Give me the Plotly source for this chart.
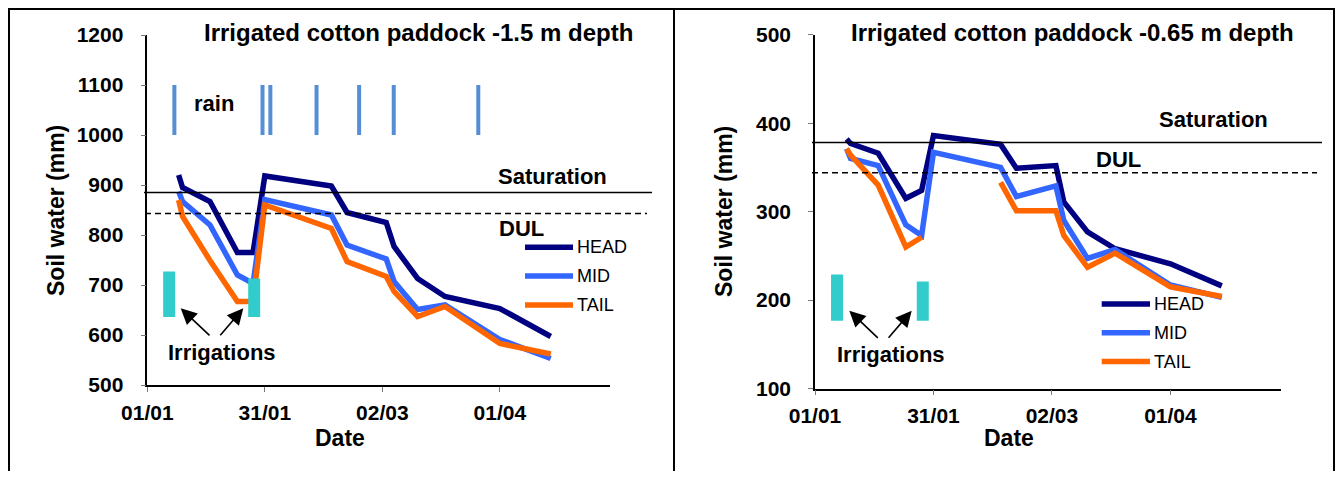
import plotly.graph_objects as go

# the page body puts an 8px margin round the figure, so the figure is made
# 16px smaller than the window and page pixels are shifted by 8
OFF = 8
W, H = 1343 - 2 * OFF, 479 - 2 * OFF

# sampling dates (both depths)
dates = ['2009-01-09', '2009-01-10', '2009-01-17', '2009-01-24', '2009-01-28', '2009-01-31',
         '2009-02-17', '2009-02-21', '2009-03-03', '2009-03-05', '2009-03-11', '2009-03-18',
         '2009-04-01', '2009-04-14']

# soil water (mm) - 1.5 m depth
head_150 = [920, 895, 867, 765, 765, 918, 898, 845, 825, 777, 713, 677, 653, 597]
mid_150 = [887, 867, 820, 720, 703, 871, 840, 780, 752, 707, 651, 660, 591, 553]
tail_150 = [870, 837, 749, 667, 667, 860, 813, 747, 717, 687, 637, 657, 583, 562]

# soil water (mm) - 0.65 m depth
head_065 = [382, 377, 366, 315, 324, 386, 376, 349, 352, 311, 277, 258, 241, 216]
mid_065 = [371, 360, 352, 285, 273, 367, 350, 317, 329, 290, 247, 257, 217, 203]
tail_065 = [371, 364, 330, 260, 271, None, 333, 301, 301, 273, 237, 253, 215, 204]

# reference levels
sat_150, dul_150 = 885, 843
sat_065, dul_065 = 378, 344

# rain events (marker bars drawn 1000-1100 on the 1.5 m chart)
rain_dates = ['2009-01-07 22:00', '2009-01-30 10:00', '2009-02-01 10:00', '2009-02-13 05:00',
              '2009-02-24 02:00', '2009-03-04 22:00', '2009-03-26 12:00']
rain_low, rain_high = 1000, 1100

# irrigation markers
irr_dates = ['2009-01-06 14:00', '2009-01-28 07:00']
irr_150_base, irr_150_top = 636, [727, 713]
irr_065_base, irr_065_top = 176.5, [229, 221]

tick_vals = ['2009-01-01', '2009-01-31', '2009-03-02', '2009-04-01']
tick_text = ['01/01', '31/01', '02/03', '01/04']

series_names = ['HEAD', 'MID', 'TAIL']
series_colors = ['#000080', '#3366FF', '#FF6600']

FONT = 'Liberation Sans, Arial, sans-serif'


def px(x):
    return (x - OFF) / W


def py(y):
    return 1 - (y - OFF) / H


fig = go.Figure()

panels = [
    ('x', 'y', [head_150, mid_150, tail_150], irr_150_base, irr_150_top),
    ('x2', 'y2', [head_065, mid_065, tail_065], irr_065_base, irr_065_top),
]

for xa, ya, series, irr_base, irr_top in panels:
    for name, vals, col in zip(series_names, series, series_colors):
        fig.add_trace(go.Scatter(x=dates, y=vals, mode='lines', name=name,
                                 line=dict(color=col, width=5.5), connectgaps=False,
                                 xaxis=xa, yaxis=ya, showlegend=False))
    # irrigation bars on top of the lines
    for d, top in zip(irr_dates, irr_top):
        fig.add_trace(go.Scatter(x=[d, d], y=[irr_base, top], mode='lines',
                                 line=dict(color='#33CCCC', width=12),
                                 xaxis=xa, yaxis=ya, showlegend=False, hoverinfo='skip'))

# rain bars
rx, ry = [], []
for d in rain_dates:
    rx += [d, d, None]
    ry += [rain_low, rain_high, None]
fig.add_trace(go.Scatter(x=rx, y=ry, mode='lines', line=dict(color='#558ED5', width=4),
                         xaxis='x', yaxis='y', showlegend=False, hoverinfo='skip'))

axis_common = dict(showline=True, linecolor='black', linewidth=1.5, showgrid=False,
                   zeroline=False, ticks='outside', ticklen=5, tickcolor='#777', tickwidth=1,
                   automargin=False,
                   tickfont=dict(family=FONT, size=21, color='black', weight='bold'))

xcommon = dict(axis_common, type='date', range=['2009-01-01', '2009-04-29'],
               tickvals=tick_vals, ticktext=tick_text, ticklabelstandoff=3)
ycommon = dict(axis_common, dtick=100, ticklabelstandoff=13)

fig.update_layout(
    width=W, height=H,
    margin=dict(l=0, r=0, t=0, b=0, pad=0, autoexpand=False),
    showlegend=False,
    paper_bgcolor='white', plot_bgcolor='white',
    xaxis=dict(xcommon, domain=[px(147.3), px(609.5)], anchor='y'),
    yaxis=dict(ycommon, domain=[py(385), py(35)], range=[500, 1200], anchor='x'),
    xaxis2=dict(xcommon, domain=[px(815), px(1281)], anchor='y2'),
    yaxis2=dict(ycommon, domain=[py(388.5), py(34.7)], range=[100, 500], anchor='x2'),
)

shapes = []
# panel borders: top edge plus three uprights, open at the bottom
border = dict(type='line', xref='paper', yref='paper', line=dict(color='black', width=2))
shapes.append(dict(border, x0=px(8), x1=px(1335), y0=py(9), y1=py(9)))
for bx in [9, 674, 1334]:
    shapes.append(dict(border, x0=px(bx), x1=px(bx), y0=py(9), y1=0))

# saturation / DUL lines
shapes.append(dict(type='line', xref='paper', yref='y', x0=px(144), x1=px(652),
                   y0=sat_150, y1=sat_150, line=dict(color='black', width=1.5)))
shapes.append(dict(type='line', xref='paper', yref='y', x0=px(145), x1=px(647),
                   y0=dul_150, y1=dul_150, line=dict(color='black', width=1.5, dash='6px,4px')))
shapes.append(dict(type='line', xref='paper', yref='y2', x0=px(812), x1=px(1322),
                   y0=sat_065, y1=sat_065, line=dict(color='black', width=1.5)))
shapes.append(dict(type='line', xref='paper', yref='y2', x0=px(812), x1=px(1317),
                   y0=dul_065, y1=dul_065, line=dict(color='black', width=1.5, dash='6px,4px')))

annotations = []

# hand-made legends
for lx0, lx1, ly0 in [(525, 573, 247.3), (1101.7, 1150, 304)]:
    for i, (name, col) in enumerate(zip(series_names, series_colors)):
        yy = ly0 + i * 28.8
        shapes.append(dict(type='line', xref='paper', yref='paper', x0=px(lx0), x1=px(lx1),
                           y0=py(yy), y1=py(yy), line=dict(color=col, width=5.5)))
        annotations.append(dict(xref='paper', yref='paper', x=px(lx1 + 2), y=py(yy),
                                text=name, showarrow=False, xanchor='left', yanchor='middle',
                                font=dict(family=FONT, size=18, color='black')))


def label(x, y, text, size=22, angle=0):
    annotations.append(dict(xref='paper', yref='paper', x=px(x), y=py(y), text=text,
                            showarrow=False, xanchor='center', yanchor='middle', textangle=angle,
                            font=dict(family=FONT, size=size, color='black', weight='bold')))


label(418, 33, 'Irrigated cotton paddock -1.5 m depth', 24)
label(1072, 33, 'Irrigated cotton paddock -0.65 m depth', 24)
label(552.5, 176, 'Saturation')
label(521.7, 228, 'DUL')
label(1213.3, 120, 'Saturation')
label(1118, 159.5, 'DUL')
label(213.8, 103, 'rain')
label(221.7, 352, 'Irrigations')
label(891, 354, 'Irrigations')
label(340, 438, 'Date', 23)
label(1009, 438, 'Date', 23)
label(56, 211, 'Soil water (mm)', 23, -90)
label(724, 212, 'Soil water (mm)', 23, -90)

# irrigation arrows: (head x, head y, tail x, tail y)
arrows = [(180.7, 308.3, 211, 336.7), (243.3, 308.3, 219, 336.7),
          (849.3, 310.7, 879.3, 339.3), (911.7, 310.7, 887.3, 339.3)]
for hx, hy, tx, ty in arrows:
    annotations.append(dict(xref='paper', yref='paper', x=px(hx), y=py(hy), text='',
                            showarrow=True, arrowhead=2, arrowsize=2, arrowwidth=1.6,
                            arrowcolor='black', ax=tx - hx, ay=ty - hy))

fig.update_layout(shapes=shapes, annotations=annotations)

fig.write_html("out.html")
